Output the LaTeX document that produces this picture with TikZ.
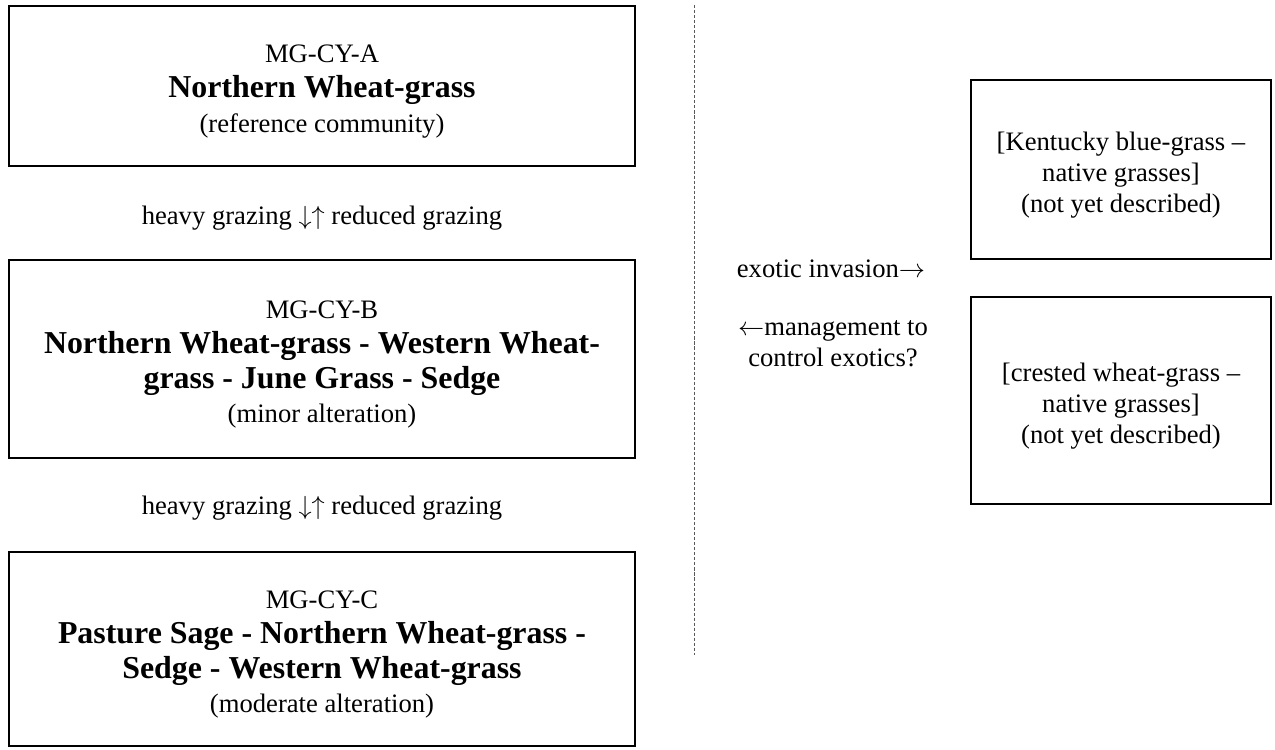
\documentclass[tikz,border=0pt]{standalone}
\usepackage{fontspec}
\setmainfont{Liberation Serif}
\tikzset{
  phase/.style={draw, line width=0.8pt, inner sep=0pt, align=center,
    minimum width=286.7pt, font=\fontsize{12.2}{16}\selectfont},
  exotic/.style={draw, line width=0.8pt, inner sep=0pt, align=center,
    minimum width=137.4pt, font=\fontsize{12.2}{14.2}\selectfont},
  shift label/.style={inner sep=0pt, align=center, font=\fontsize{12.2}{14.2}\selectfont}
}
\newcommand{\bigname}[1]{{\fontsize{14.6}{16}\selectfont\bfseries #1}}
\newcommand{\toprule}[1]{\rule{0pt}{#1}}
\begin{document}
\begin{tikzpicture}[x=0.458pt, y=-0.458pt]
\useasboundingbox (0,0) rectangle (1275,750);

% Drawing box MG-CY-A
\node (ccA) [phase, minimum height=73.3pt] at (322,86)
  {\toprule{13.2pt}MG-CY-A\\ \bigname{Northern Wheat-grass}\\ (reference community)};

% Marking shift A <-> B
\node (shiftAB) [shift label] at (322,218) {heavy grazing $\downarrow\uparrow$ reduced grazing};

% Drawing box MG-CY-B
\node (ccB) [phase, minimum height=90.7pt] at (322,359)
  {\toprule{13.2pt}MG-CY-B\\ \bigname{Northern Wheat-grass - Western Wheat-}\\
   \bigname{grass - June Grass - Sedge}\\ (minor alteration)};

% Marking shift B <-> C
\node (shiftBC) [shift label] at (322,508) {heavy grazing $\downarrow\uparrow$ reduced grazing};

% Drawing box MG-CY-C
\node (ccC) [phase, minimum height=88.9pt] at (322,649)
  {\toprule{13.2pt}MG-CY-C\\ \bigname{Pasture Sage - Northern Wheat-grass -}\\
   \bigname{Sedge - Western Wheat-grass}\\ (moderate alteration)};

% Drawing divider
\draw [line width=0.4pt, gray!70!black, dash pattern=on 1.4pt off 0.9pt] (694,5) -- (694,655);

% Marking exotic shifts
\node (invasion) [shift label] at (831,269) {exotic invasion$\rightarrow$};
\node (control) [shift label] at (833,344) {$\leftarrow$management to\\ control exotics?};

% Drawing exotic boxes
\node (kbg) [exotic, minimum height=82.0pt] at (1121,169.5)
  {\toprule{13.5pt}[Kentucky blue-grass –\\ native grasses]\\ (not yet described)};
\node (cwg) [exotic, minimum height=94.8pt] at (1121,400.5)
  {\toprule{13.5pt}[crested wheat-grass –\\ native grasses]\\ (not yet described)};
\end{tikzpicture}
\end{document}
